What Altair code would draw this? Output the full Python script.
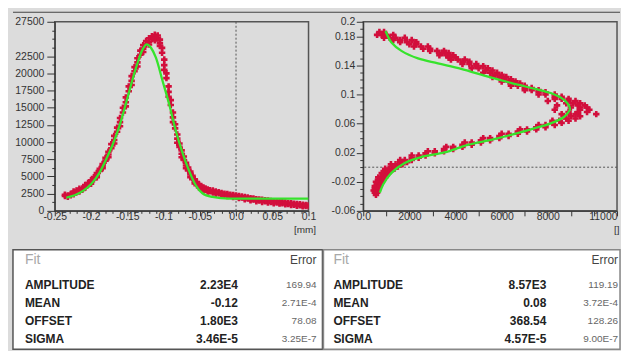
import json
import altair as alt
import pandas as pd

FONT = "Liberation Sans"
BG = "#dcdcdc"
RED = "#d20f3c"
GREEN = "#36e32c"
AX = "#333333"

# ---------------- left panel: counts vs position [mm] ----------------
# measured band: x position -> list of y values read off the picture
left_band = {
    -0.236: [2150, 2350], -0.232: [2250, 2050], -0.228: [2450, 2250],
    -0.224: [2600, 2400, 2800], -0.220: [2700, 2950], -0.216: [3000, 2800, 3200],
    -0.212: [3250, 3050], -0.208: [3550, 3350, 3750], -0.204: [3800, 4050],
    -0.200: [4200, 3950, 4450], -0.196: [4600, 4900], -0.192: [5100, 5500, 4900],
    -0.188: [5800, 6100], -0.184: [6500, 6800, 6200], -0.180: [7300, 7700],
    -0.176: [8200, 8600, 7800], -0.172: [9100, 9700], -0.168: [10300, 10900, 9800],
    -0.164: [11500, 12100], -0.160: [12900, 13500, 12300], -0.156: [14300, 15000],
    -0.152: [15800, 16500, 15200], -0.148: [17400, 18100], -0.144: [18900, 19600, 18300],
    -0.140: [20300, 20900], -0.136: [21600, 22200, 21000], -0.132: [22700, 23300],
    -0.128: [23600, 24100, 23100], -0.124: [24200, 24700], -0.120: [24600, 25100, 24200],
    -0.116: [25000, 25400], -0.112: [25200, 25600, 24800], -0.108: [25100, 25500],
    -0.105: [24400, 24900, 24000], -0.102: [23000, 23700], -0.099: [21200, 22000, 20500],
    -0.096: [19300, 20000], -0.093: [17300, 18100, 16600], -0.090: [15400, 16100],
    -0.087: [13600, 14300, 12900], -0.084: [12000, 12600], -0.081: [10500, 11100, 9900],
    -0.078: [9300, 9800], -0.075: [8300, 8800, 7800], -0.072: [7400, 7900],
    -0.069: [6600, 7000, 6200], -0.066: [5900, 6300], -0.063: [5300, 5700, 4900],
    -0.060: [4800, 5100], -0.057: [4300, 4600, 4000], -0.054: [3900, 4200],
    -0.051: [3600, 3800, 3400], -0.048: [3400, 3600], -0.045: [3200, 3400, 3000],
    -0.042: [3050, 3250], -0.039: [2950, 3100, 2800], -0.036: [2850, 3000],
    -0.032: [2800, 2950, 2650], -0.028: [2650, 2800, 2500], -0.024: [2550, 2700],
    -0.020: [2450, 2600, 2300], -0.016: [2350, 2500], -0.012: [2300, 2450, 2150],
    -0.008: [2200, 2350], -0.004: [2150, 2300, 2000], 0.000: [2100, 2250],
    0.004: [2000, 2150, 1850], 0.008: [1950, 2100], 0.012: [1850, 2000, 1700],
    0.016: [1800, 1950], 0.020: [1700, 1850, 1550], 0.024: [1650, 1800],
    0.028: [1550, 1700, 1400], 0.032: [1500, 1650], 0.036: [1450, 1600, 1300],
    0.040: [1400, 1550], 0.044: [1350, 1500, 1200], 0.048: [1300, 1450],
    0.052: [1250, 1400, 1100], 0.056: [1200, 1350], 0.060: [1150, 1300, 1050],
    0.064: [1100, 1250], 0.068: [1050, 1200, 950], 0.072: [1000, 1150],
    0.076: [950, 1100, 850], 0.080: [900, 1050], 0.084: [850, 1000, 750],
    0.088: [800, 950], 0.092: [750, 900, 650], 0.096: [700, 850], 0.100: [650, 800],
}
left_fit_x = [-0.234, -0.2226, -0.2111, -0.2001, -0.1882, -0.1791, -0.1699, -0.1608,
              -0.1503, -0.1379, -0.1288, -0.1233, -0.1173, -0.1105, -0.1013, -0.0922,
              -0.083, -0.0739, -0.0647, -0.0556, -0.0464, -0.0327, -0.0098, 0.0, 0.1]
left_fit_y = [1937, 2276, 2905, 3874, 5568, 7505, 9684, 12347,
              16221, 20821, 23484, 24210, 23726, 22273, 18884, 15494,
              11621, 8474, 5810, 3728, 2566, 2034, 1792, 1792, 1792]

# ---------------- right panel: position vs counts ----------------
# measured band: y position -> list of x values read off the picture
right_band = {
    0.186: [900, 700], 0.182: [600, 1000, 800, 1300], 0.178: [1150, 1400, 900, 1800],
    0.175: [1600, 1300, 2100], 0.172: [1900, 1600, 2300], 0.169: [2300, 2000],
    0.166: [2500, 2800, 2200], 0.163: [2900, 2600], 0.160: [3200, 2900, 3500],
    0.157: [3400, 3700], 0.154: [3600, 3900, 3300], 0.151: [4000, 3700],
    0.148: [4100, 4400, 3800], 0.145: [4300, 4600], 0.142: [4600, 4900, 4300],
    0.139: [4900, 5200], 0.136: [5000, 5400, 4700], 0.133: [5300, 5600],
    0.130: [5500, 5800, 5200], 0.127: [5700, 6000], 0.124: [5900, 6200, 5600],
    0.121: [6100, 6400], 0.118: [6300, 6600, 6000], 0.115: [6500, 6800],
    0.112: [6700, 7000, 6400], 0.109: [7000, 7300], 0.106: [7300, 7600, 7000],
    0.103: [7600, 7900], 0.100: [7900, 8300, 7600], 0.097: [8300, 8600],
    0.094: [8600, 8900, 8300], 0.091: [8900, 9200, 8000], 0.088: [9100, 9400, 8800],
    0.085: [9300, 9600, 8400], 0.082: [9400, 9700, 9000], 0.079: [9400, 9800, 8300],
    0.076: [9300, 9700, 8900], 0.073: [9200, 10100, 8600], 0.070: [9000, 9400, 8700],
    0.067: [8800, 9200], 0.064: [8500, 8900, 8200], 0.061: [8200, 8600],
    0.058: [7900, 8300, 7600], 0.055: [7500, 7900], 0.052: [7100, 7500, 6800],
    0.049: [6700, 7100], 0.046: [6300, 6700, 6000], 0.043: [5900, 6300],
    0.040: [5500, 5900, 5200], 0.037: [5100, 5500], 0.034: [4700, 5100, 4400],
    0.031: [4300, 4700], 0.028: [3900, 4300, 3600], 0.025: [3500, 3900],
    0.022: [3100, 3500, 2800], 0.019: [2700, 3100], 0.016: [2400, 2700, 2100],
    0.013: [2100, 2400], 0.010: [1800, 2100, 1600], 0.007: [1600, 1900],
    0.004: [1400, 1700, 1200], 0.001: [1250, 1500], -0.002: [1100, 1350, 950],
    -0.005: [1000, 1200], -0.008: [900, 1100, 800], -0.011: [850, 1000],
    -0.014: [750, 950, 650], -0.017: [700, 850], -0.020: [650, 800, 550],
    -0.023: [600, 750], -0.026: [550, 700, 500], -0.029: [500, 650],
    -0.032: [500, 600, 450], -0.035: [500, 600], -0.038: [550],
}
right_fit_x = [719, 863, 1222, 1798, 2517, 3523, 4530, 5536, 6399, 7262, 8125, 8700,
               8850, 8960, 8850, 8600, 8125, 7406, 6399, 5249, 4242, 3236, 2373, 1654,
               1222, 964]
right_fit_y = [-0.035, -0.0237, -0.0078, 0.0058, 0.014, 0.0203, 0.0308, 0.0376, 0.0444,
               0.0521, 0.0603, 0.069, 0.074, 0.080, 0.088, 0.095, 0.102, 0.108, 0.116,
               0.126, 0.1351, 0.1428, 0.1496, 0.16, 0.1714, 0.1873]

# ---------------- axes ticks / labels ----------------
lx_major = [-0.25, -0.2, -0.15, -0.1, -0.05, 0.0, 0.05, 0.1]
lx_labels = ["-0.25", "-0.2", "-0.15", "-0.1", "-0.05", "0.0", "0.05", "0.1"]
lx_minor = [round(-0.25 + 0.01 * i, 2) for i in range(36)]
ly_major = [0, 2500, 5000, 7500, 10000, 12500, 15000, 17500, 20000, 22500, 27500]
ly_labels = [str(v) for v in ly_major]
ly_minor = list(range(0, 27501, 1250))
rx_major = [0, 2000, 4000, 6000, 8000, 11000]
rx_labels = ["0.0", "2000", "4000", "6000", "8000", "11000"]
rx_minor = list(range(0, 11001, 1000))
ry_major = [-0.06, -0.02, 0.02, 0.06, 0.1, 0.14, 0.18, 0.2]
ry_labels = ["-0.06", "-0.02", "0.02", "0.06", "0.1", "0.14", "0.18", "0.2"]
ry_minor = [round(-0.06 + 0.01 * i, 2) for i in range(27)]

# ---------------- fit tables ----------------
param_names = ["AMPLITUDE", "MEAN", "OFFSET", "SIGMA"]
left_vals = ["2.23E4", "-0.12", "1.80E3", "3.46E-5"]
left_errs = ["169.94", "2.71E-4", "78.08", "3.25E-7"]
right_vals = ["8.57E3", "0.08", "368.54", "4.57E-5"]
right_errs = ["119.19", "3.72E-4", "128.26", "9.00E-7"]


def label_expr(vals, labels):
    parts = [f"datum.value == {v!r} ? '{l}'" for v, l in zip(vals, labels)]
    return " : ".join(parts) + " : ''"


def tick_cond(major, big, small):
    return {"condition": {"test": f"indexof({json.dumps(major)}, datum.value) >= 0",
                          "value": big}, "value": small}


def axis(major, labels, minor, big, small, pad, **kw):
    ticks = sorted(set(minor) | set(major))
    return alt.Axis(values=ticks, labelExpr=label_expr(major, labels),
                    tickSize=tick_cond(major, big, small), grid=False,
                    domainColor=AX, tickColor=AX, labelColor=AX, labelFont=FONT,
                    labelFontSize=10.5, labelPadding=pad, labelOverlap=False,
                    labelFlush=False, tickWidth=1, domainWidth=1, **kw)


def title_kw(t, tx):
    return dict(title=t, titleAnchor="end", titleAlign="right", titleBaseline="top",
                titleX=tx, titleY=14, titleFontSize=10, titleFontWeight="normal",
                titleColor=AX, titleFont=FONT)


def band_df(band, key, val):
    rows = [{key: k, val: v} for k, vs in band.items() for v in vs]
    return pd.DataFrame(rows)


PLOT_VIEW = {"fill": BG, "stroke": "#555555", "strokeWidth": 1.5}

# left plot
LX = alt.X("x:Q", scale=alt.Scale(domain=[-0.25, 0.1], nice=False, zero=False),
           axis=axis(lx_major, lx_labels, lx_minor, 5, 2.5, -4, **title_kw("[mm]", 262)))
LY = alt.Y("y:Q", scale=alt.Scale(domain=[0, 27500], nice=False),
           axis=axis(ly_major, ly_labels, ly_minor, 8, 3, 3, title=None))
l_pts = alt.Chart(band_df(left_band, "x", "y")).mark_point(
    shape="cross", filled=True, size=42, color=RED, opacity=1, clip=True).encode(x=LX, y=LY)
l_fit = alt.Chart(pd.DataFrame({"x": left_fit_x, "y": left_fit_y})).mark_line(
    color=GREEN, strokeWidth=2.3, interpolate="monotone", clip=True).encode(x=LX, y=LY)
l_rule = alt.Chart(pd.DataFrame({"x": [0.0]})).mark_rule(
    color="#555555", strokeDash=[2, 2], strokeWidth=1).encode(x=LX)
left_plot = alt.layer(l_rule, l_pts, l_fit).properties(width=255, height=190, view=PLOT_VIEW)

# right plot
RX = alt.X("x:Q", scale=alt.Scale(domain=[0, 11000], nice=False, zero=False),
           axis=axis(rx_major, rx_labels, rx_minor, 5, 5, -4,
                     labelAlign={"condition": {"test": "datum.value == 11000", "value": "right"},
                                 "value": "center"},
                     **title_kw("[]", 257)))
RY = alt.Y("y:Q", scale=alt.Scale(domain=[-0.06, 0.2], nice=False, zero=False),
           axis=axis(ry_major, ry_labels, ry_minor, 7, 3.5, 1.5, title=None))
r_pts = alt.Chart(band_df(right_band, "y", "x")).mark_point(
    shape="cross", filled=True, size=42, color=RED, opacity=1, clip=True).encode(x=RX, y=RY)
r_fit = alt.Chart(pd.DataFrame({"x": right_fit_x, "y": right_fit_y,
                                "i": list(range(len(right_fit_x)))})).mark_line(
    color=GREEN, strokeWidth=2.3, interpolate="catmull-rom", clip=True).encode(
    x=RX, y=RY, order="i:Q")
r_rule = alt.Chart(pd.DataFrame({"y": [0.0]})).mark_rule(
    color="#555555", strokeDash=[2, 2], strokeWidth=1).encode(y=RY)
right_plot = alt.layer(r_rule, r_pts, r_fit).properties(width=255, height=190, view=PLOT_VIEW)


def table(vals, errs, w, xn, xv, xe, stroke):
    df = pd.DataFrame({"row": list(range(4)), "name": param_names, "val": vals, "err": errs})
    y = alt.Y("row:Q", scale=alt.Scale(domain=[0, 3], range=[36, 90]), axis=None)
    base = alt.Chart(df).encode(y=y)
    n = base.mark_text(align="left", baseline="middle", fontSize=12, fontWeight="bold",
                       color="#222222").encode(x=alt.value(xn), text="name:N")
    v = base.mark_text(align="right", baseline="middle", fontSize=12, fontWeight="bold",
                       color="#222222").encode(x=alt.value(xv), text="val:N")
    e = base.mark_text(align="right", baseline="middle", fontSize=10,
                       color="#666666").encode(x=alt.value(xe), text="err:N")
    hdr = pd.DataFrame({"h": ["Fit"], "e": ["Error"]})
    h1 = alt.Chart(hdr).mark_text(align="left", baseline="middle", fontSize=14,
                                  color="#a8a8a8").encode(x=alt.value(xn), y=alt.value(10), text="h:N")
    h2 = alt.Chart(hdr).mark_text(align="right", baseline="middle", fontSize=12,
                                  color="#444444").encode(x=alt.value(xe), y=alt.value(10), text="e:N")
    return alt.layer(n, v, e, h1, h2).properties(
        width=w, height=100, view={"fill": "white", "stroke": stroke, "strokeWidth": 1.5})


left_table = table(left_vals, left_errs, 311, 12, 226, 305, "#555555")
right_table = table(right_vals, right_errs, 298, 10, 224, 296, "#888888")

one = pd.DataFrame({"a": [0]})
topbar = alt.Chart(one).mark_point(opacity=0).encode(
    x=alt.value(0), y=alt.value(0)).properties(
    width=610, height=1, view={"fill": "#444444", "strokeWidth": 0})
spacer = alt.Chart(one).mark_point(opacity=0).encode(
    x=alt.value(0), y=alt.value(0)).properties(
    width=42, height=228, view={"fill": "transparent", "strokeWidth": 0})

plots_row = alt.hconcat(spacer, alt.hconcat(left_plot, right_plot, spacing=55, bounds="flush"),
                        spacing=0, bounds="flush")
upper = alt.vconcat(topbar, plots_row, spacing=9, bounds="flush")
tables_row = alt.hconcat(left_table, right_table, spacing=1, bounds="flush")

chart = alt.vconcat(upper, tables_row, spacing=0, bounds="full").configure(
    background=BG, padding={"left": 2, "top": 0, "right": 0, "bottom": 0}, font=FONT
).configure_view(strokeWidth=0)

chart.save("out.html", embed_options={"renderer": "svg", "actions": False})
